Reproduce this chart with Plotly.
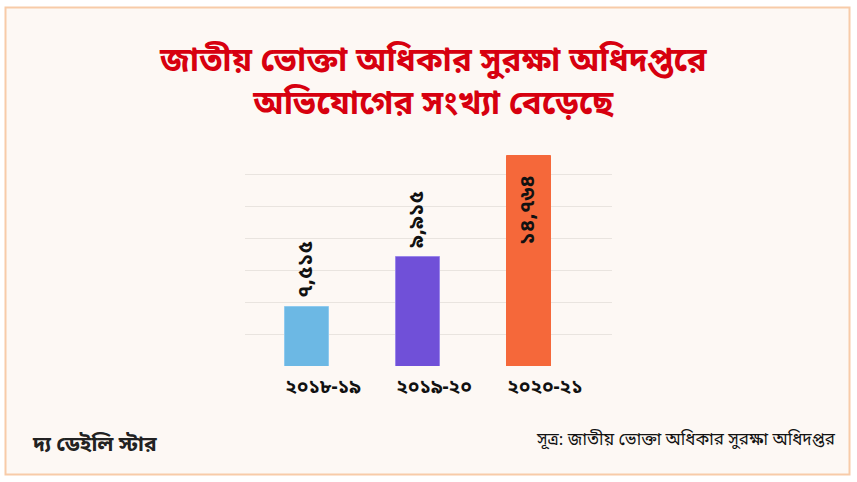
import plotly.graph_objects as go

years = ["২০১৮-১৯", "২০১৯-২০", "২০২০-২১"]
complaints = [7515, 9915, 14764]
value_labels = ["\u00a0৭,৫১৫", "\u00a0৯,৯১৫", "১৪,৭৬৪\u00a0\u00a0\u00a0"]
bar_colors = ["#6cb8e4", "#7050d8", "#f5683a"]
edge_colors = ["#8fcaef", "#9a86ea", "#f5683a"]
label_positions = ["outside", "outside", "inside"]

title_text = "জাতীয় ভোক্তা অধিকার সুরক্ষা অধিদপ্তরে<br>অভিযোগের সংখ্যা বেড়েছে"
source_text = "সূত্র: জাতীয় ভোক্তা অধিকার সুরক্ষা অধিদপ্তর"
logo_text = "দ্য ডেইলি স্টার"

FONT = "Noto Sans Bengali, Noto Serif Bengali, Lohit Bengali, FreeSans, Noto Sans, sans-serif"

W, H = 857, 482
L, R, T, B = 245, 612, 142, 366  # plot area in pixels
base = 4683
k = 151 / (14764 - 7515)  # px per unit
y_top = base + (B - T) / k
grid_vals = [base + i * 32 / k for i in range(7)]

fig = go.Figure(go.Bar(
    x=years, y=complaints,
    marker=dict(color=bar_colors, line=dict(color=edge_colors, width=1)),
    width=0.396,
    text=value_labels, textposition=label_positions, textangle=-90,
    insidetextanchor="end", constraintext="none", cliponaxis=False,
    textfont=dict(family=FONT, size=21, color="#111111", weight="bold"),
    hoverinfo="skip",
))

def px2x(px):
    return (px - L) / (R - L)

def py2y(py):
    return (B - py) / (B - T)

fig.update_layout(
    width=W, height=H,
    margin=dict(l=L, r=W - R, t=T, b=H - B, pad=0),
    paper_bgcolor="white", plot_bgcolor="rgba(0,0,0,0)",
    showlegend=False, bargap=0,
    xaxis=dict(range=[-0.559, 2.748], showgrid=False, zeroline=False, showline=False,
               ticks="", tickfont=dict(family=FONT, size=19, color="#111111", weight="bold"),
               ticklabelstandoff=7, ticklabelshift=16),
    yaxis=dict(range=[base, y_top], tickvals=grid_vals, showticklabels=False,
               showgrid=True, gridcolor="#e9e4df", gridwidth=1, zeroline=False, showline=False),
    shapes=[dict(type="rect", xref="paper", yref="paper",
                 x0=px2x(5.5), x1=px2x(849.5), y0=py2y(474.5), y1=py2y(7.5),
                 line=dict(color="#f8cba8", width=2), fillcolor="#fdf8f4", layer="below")],
    annotations=[
        dict(text=title_text, xref="paper", yref="paper", x=px2x(433), y=py2y(84),
             xanchor="center", yanchor="middle", showarrow=False, align="center",
             font=dict(family=FONT, size=33, color="#d7000f", weight="bold")),
        dict(text=source_text, xref="paper", yref="paper", x=px2x(838), y=py2y(440),
             xanchor="right", yanchor="middle", showarrow=False,
             font=dict(family=FONT, size=17, color="#111111")),
        dict(text=logo_text, xref="paper", yref="paper", x=px2x(30), y=py2y(446),
             xanchor="left", yanchor="middle", showarrow=False,
             font=dict(family=FONT, size=21, color="#222222", weight="bold")),
    ],
)

fig.write_html("out.html", config={"displayModeBar": False},
               post_script="document.body.style.margin='0';")
